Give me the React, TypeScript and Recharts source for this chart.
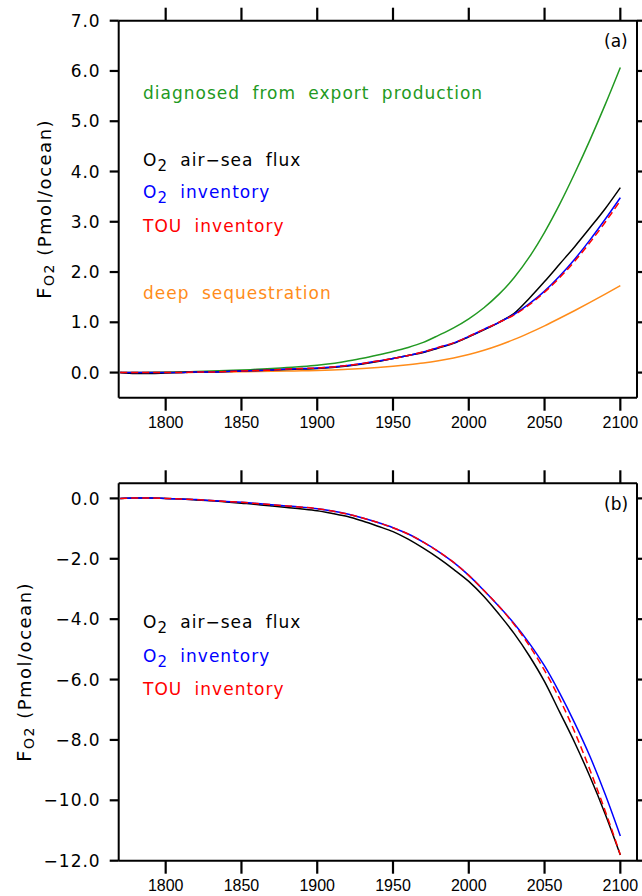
import React from 'react';
import { LineChart, Line, XAxis, YAxis } from 'recharts';

const years = [1770, 1780, 1790, 1800, 1810, 1820, 1830, 1840, 1850, 1860, 1870, 1880, 1890, 1900, 1910, 1920, 1930, 1940, 1950, 1960, 1970, 1980, 1990, 2000, 2010, 2020, 2030, 2040, 2050, 2060, 2070, 2080, 2090, 2100];

// Panel (a)
const exportProdA = [0, 0, 0.005, 0.01, 0.015, 0.02, 0.03, 0.04, 0.05, 0.065, 0.08, 0.1, 0.12, 0.145, 0.18, 0.23, 0.285, 0.35, 0.42, 0.5, 0.6, 0.74, 0.89, 1.07, 1.29, 1.56, 1.89, 2.3, 2.79, 3.35, 3.97, 4.63, 5.33, 6.07];
const airSeaA = [0, -0.02, -0.02, -0.01, 0, 0.01, 0.01, 0.02, 0.03, 0.04, 0.05, 0.06, 0.07, 0.08, 0.1, 0.13, 0.17, 0.22, 0.28, 0.34, 0.4, 0.49, 0.58, 0.71, 0.85, 1.0, 1.18, 1.48, 1.81, 2.16, 2.51, 2.88, 3.26, 3.68];
const o2InvA = [0, 0, 0, 0, 0, 0.01, 0.01, 0.02, 0.03, 0.04, 0.05, 0.07, 0.08, 0.09, 0.11, 0.14, 0.18, 0.23, 0.28, 0.34, 0.41, 0.5, 0.59, 0.72, 0.86, 1.0, 1.16, 1.37, 1.62, 1.92, 2.26, 2.64, 3.05, 3.48];
const touInvA = [0, 0, 0, 0, 0, 0.01, 0.01, 0.02, 0.03, 0.04, 0.05, 0.07, 0.08, 0.09, 0.11, 0.14, 0.18, 0.23, 0.28, 0.34, 0.41, 0.5, 0.59, 0.72, 0.86, 1.0, 1.15, 1.35, 1.6, 1.89, 2.22, 2.59, 2.99, 3.42];
const deepSeqA = [0, 0, 0, 0, 0, 0.005, 0.01, 0.012, 0.015, 0.02, 0.025, 0.03, 0.035, 0.04, 0.05, 0.065, 0.08, 0.1, 0.125, 0.155, 0.19, 0.235, 0.29, 0.36, 0.445, 0.545, 0.66, 0.79, 0.93, 1.08, 1.235, 1.395, 1.56, 1.73];

// Panel (b)
const airSeaB = [0, 0.01, 0.01, 0, -0.02, -0.05, -0.08, -0.12, -0.16, -0.2, -0.25, -0.3, -0.35, -0.41, -0.5, -0.6, -0.75, -0.92, -1.1, -1.35, -1.65, -1.98, -2.35, -2.75, -3.25, -3.84, -4.48, -5.22, -6.07, -7.08, -8.1, -9.22, -10.45, -11.81];
const o2InvB = [0, 0.01, 0.01, 0, -0.02, -0.04, -0.07, -0.1, -0.13, -0.17, -0.21, -0.25, -0.29, -0.34, -0.42, -0.52, -0.65, -0.8, -0.97, -1.18, -1.45, -1.76, -2.12, -2.55, -3.05, -3.58, -4.15, -4.8, -5.55, -6.45, -7.45, -8.55, -9.8, -11.18];
const touInvB = [0, 0.01, 0.01, 0, -0.02, -0.04, -0.07, -0.1, -0.13, -0.17, -0.21, -0.25, -0.29, -0.34, -0.42, -0.52, -0.65, -0.8, -0.97, -1.18, -1.45, -1.76, -2.12, -2.55, -3.05, -3.58, -4.18, -4.88, -5.7, -6.65, -7.75, -9.0, -10.35, -11.8];

const xTicks = [1800, 1850, 1900, 1950, 2000, 2050, 2100];
const yTicksA = [0, 1, 2, 3, 4, 5, 6, 7];
const yTicksB = [0, -2, -4, -6, -8, -10, -12];
const xDomain = [1769, 2111];
const yDomainA = [-0.5, 7];
const yDomainB = [-12, 0.5];

const dataA = years.map((year, i) => ({
  year,
  exportProd: exportProdA[i],
  airSea: airSeaA[i],
  o2Inv: o2InvA[i],
  touInv: touInvA[i],
  deepSeq: deepSeqA[i],
}));
const dataB = years.map((year, i) => ({
  year,
  airSea: airSeaB[i],
  o2Inv: o2InvB[i],
  touInv: touInvB[i],
}));

const GREEN = '#229922';
const ORANGE = '#ff8c1a';
const BLUE = '#0000ff';
const RED = '#ff0000';
const BLACK = '#000000';

// layout geometry (px)
const CHART_W = 642;
const MARGIN_LEFT = 58.7;
const Y_AXIS_W = 60;
const RIGHT_AXIS_W = 5;
const PLOT_LEFT = MARGIN_LEFT + Y_AXIS_W;
const PLOT_W = CHART_W - PLOT_LEFT - RIGHT_AXIS_W;
const CHART_A_TOP = 0;
const CHART_A_H = 440;
const CHART_A_MARGIN = { top: 6.7, right: 0, bottom: 12.3, left: MARGIN_LEFT };
const CHART_B_TOP = 440;
const CHART_B_H = 456;
const CHART_B_MARGIN = { top: 29.3, right: 0, bottom: 5.3, left: MARGIN_LEFT };
const TOP_AXIS_H = 14;
const BOTTOM_AXIS_H = 30;
const X_TICK_SIZE = 13;
const X_TICK_MARGIN = 6;
const Y_TICK_SIZE = 9;
const Y_TICK_MARGIN = 9;
const RIGHT_TICK = 6;
const TICK_W = 2.2;

const fmtY = (v: number) => (v < 0 ? '\u2212' + Math.abs(v).toFixed(1) : v.toFixed(1));

const YTick = (props: any) => {
  const { x, y, payload } = props;
  return (
    <text x={x} y={y} dy="0.36em" textAnchor="end" fontFamily="DejaVu Sans" fontSize={17} letterSpacing={1} fill="#000">
      {fmtY(payload.value)}
    </text>
  );
};

const XTick = (props: any) => {
  const { x, y, payload } = props;
  return (
    <text x={x} y={y} dy="0.71em" textAnchor="middle" fontFamily="Liberation Sans" fontSize={16} fill="#000">
      {payload.value}
    </text>
  );
};

const axisLine = { stroke: '#000', strokeWidth: 2 };
const tickLine = { stroke: '#000', strokeWidth: TICK_W };

function Frame(yDomain: number[], yTicks: number[]) {
  return [
    <XAxis key="xb" xAxisId={0} dataKey="year" type="number" domain={xDomain} ticks={xTicks} orientation="bottom" height={BOTTOM_AXIS_H} tickSize={X_TICK_SIZE} tickMargin={X_TICK_MARGIN} axisLine={axisLine} tickLine={tickLine} tick={<XTick />} allowDataOverflow />,
    <XAxis key="xt" xAxisId="top" dataKey="year" type="number" domain={xDomain} ticks={xTicks} orientation="top" height={TOP_AXIS_H} axisLine={axisLine} tickLine={false} tick={false} allowDataOverflow />,
    <YAxis key="yl" yAxisId={0} type="number" domain={yDomain} ticks={yTicks} orientation="left" width={Y_AXIS_W} tickSize={Y_TICK_SIZE} tickMargin={Y_TICK_MARGIN} axisLine={axisLine} tickLine={tickLine} tick={<YTick />} allowDataOverflow />,
    <YAxis key="yr" yAxisId="right" type="number" domain={yDomain} ticks={yTicks} orientation="right" width={RIGHT_AXIS_W} axisLine={axisLine} tickLine={false} tick={false} allowDataOverflow />,
    <Line key="hidden" xAxisId="top" yAxisId="right" dataKey="airSea" stroke="none" dot={false} legendType="none" isAnimationActive={false} />,
  ];
}

// Outward frame tick marks on the top and right sides, mirroring the axis geometry
function FrameTicks({ chartTop, chartH, margin, yDomain, yTicks }: any) {
  const plotTop = chartTop + margin.top + TOP_AXIS_H;
  const plotBottom = chartTop + chartH - margin.bottom - BOTTOM_AXIS_H;
  const plotH = plotBottom - plotTop;
  const plotRight = PLOT_LEFT + PLOT_W;
  const sx = (v: number) => PLOT_LEFT + ((v - xDomain[0]) / (xDomain[1] - xDomain[0])) * PLOT_W;
  const sy = (v: number) => plotTop + ((yDomain[1] - v) / (yDomain[1] - yDomain[0])) * plotH;
  return (
    <g>
      {xTicks.map((t) => (
        <line key={'xt' + t} x1={sx(t)} x2={sx(t)} y1={plotTop - X_TICK_SIZE} y2={plotTop} stroke="#000" strokeWidth={TICK_W} />
      ))}
      {yTicks.map((v: number) => (
        <line key={'yr' + v} x1={plotRight} x2={plotRight + RIGHT_TICK} y1={sy(v)} y2={sy(v)} stroke="#000" strokeWidth={TICK_W} />
      ))}
    </g>
  );
}

const annoFont = { fontFamily: 'DejaVu Sans', fontSize: 17, letterSpacing: 1, wordSpacing: 6 } as any;

function O2Label({ x, y, color, rest }: { x: number; y: number; color: string; rest: string }) {
  return (
    <text x={x} y={y} fill={color} style={annoFont}>
      <tspan>O</tspan>
      <tspan dy={5} fontSize={15}>2</tspan>
      <tspan dy={-5}>{rest}</tspan>
    </text>
  );
}

function YLabel({ x, y }: { x: number; y: number }) {
  return (
    <text transform={`translate(${x},${y}) rotate(-90)`} textAnchor="middle" fontFamily="DejaVu Sans" fontSize={18} letterSpacing={1.5} fill="#000">
      <tspan fontSize={20}>F</tspan>
      <tspan dy={3} fontSize={14}>O2</tspan>
      <tspan dy={-3}>{'  (Pmol/ocean)'}</tspan>
    </text>
  );
}

export default function App() {
  return (
    <div style={{ position: 'absolute', left: 0, top: 0, width: 642, height: 896, background: '#fff' }}>
      <div style={{ position: 'absolute', left: 0, top: CHART_A_TOP }}>
        <LineChart width={CHART_W} height={CHART_A_H} data={dataA} margin={CHART_A_MARGIN}>
          {Frame(yDomainA, yTicksA)}
          <Line type="monotone" dataKey="exportProd" stroke={GREEN} strokeWidth={1.5} dot={false} isAnimationActive={false} />
          <Line type="monotone" dataKey="deepSeq" stroke={ORANGE} strokeWidth={1.5} dot={false} isAnimationActive={false} />
          <Line type="monotone" dataKey="airSea" stroke={BLACK} strokeWidth={1.5} dot={false} isAnimationActive={false} />
          <Line type="monotone" dataKey="o2Inv" stroke={BLUE} strokeWidth={1.5} dot={false} isAnimationActive={false} />
          <Line type="monotone" dataKey="touInv" stroke={RED} strokeWidth={1.5} strokeDasharray="7 4" dot={false} isAnimationActive={false} />
        </LineChart>
      </div>
      <div style={{ position: 'absolute', left: 0, top: CHART_B_TOP }}>
        <LineChart width={CHART_W} height={CHART_B_H} data={dataB} margin={CHART_B_MARGIN}>
          {Frame(yDomainB, yTicksB)}
          <Line type="monotone" dataKey="airSea" stroke={BLACK} strokeWidth={1.5} dot={false} isAnimationActive={false} />
          <Line type="monotone" dataKey="o2Inv" stroke={BLUE} strokeWidth={1.5} dot={false} isAnimationActive={false} />
          <Line type="monotone" dataKey="touInv" stroke={RED} strokeWidth={1.5} strokeDasharray="7 4" dot={false} isAnimationActive={false} />
        </LineChart>
      </div>
      <svg width={642} height={896} style={{ position: 'absolute', left: 0, top: 0, pointerEvents: 'none' }}>
        <FrameTicks chartTop={CHART_A_TOP} chartH={CHART_A_H} margin={CHART_A_MARGIN} yDomain={yDomainA} yTicks={yTicksA} />
        <FrameTicks chartTop={CHART_B_TOP} chartH={CHART_B_H} margin={CHART_B_MARGIN} yDomain={yDomainB} yTicks={yTicksB} />

        <text x={143} y={99} fill={GREEN} style={annoFont}>diagnosed from export production</text>
        <O2Label x={143} y={166} color={BLACK} rest={' air\u2212sea flux'} />
        <O2Label x={143} y={198.3} color={BLUE} rest={' inventory'} />
        <text x={143} y={231.7} fill={RED} style={annoFont}>TOU inventory</text>
        <text x={143} y={299.3} fill={ORANGE} style={annoFont}>deep sequestration</text>
        <text x={604} y={47.3} fontFamily="DejaVu Sans" fontSize={17} fill="#000">(a)</text>

        <O2Label x={143} y={628.3} color={BLACK} rest={' air\u2212sea flux'} />
        <O2Label x={143} y={661.7} color={BLUE} rest={' inventory'} />
        <text x={143} y={695} fill={RED} style={annoFont}>TOU inventory</text>
        <text x={604} y={510} fontFamily="DejaVu Sans" fontSize={17} fill="#000">(b)</text>

        <YLabel x={51} y={209} />
        <YLabel x={31} y={672} />
      </svg>
    </div>
  );
}
